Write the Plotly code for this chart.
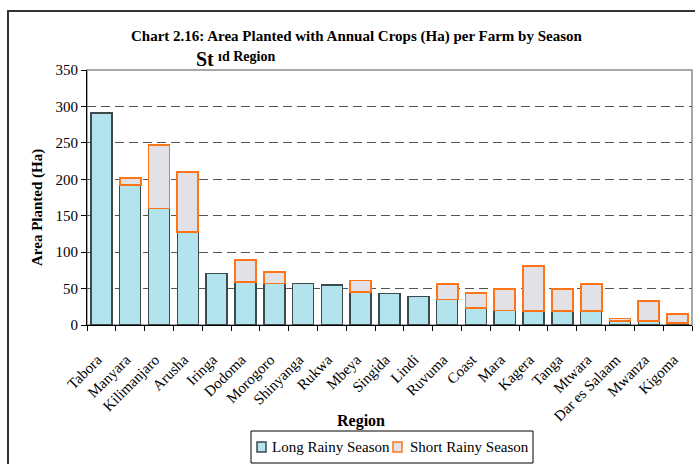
import plotly.graph_objects as go

# Regions and area planted (Ha) per farm, by season
regions = ["Tabora", "Manyara", "Kilimanjaro", "Arusha", "Iringa", "Dodoma",
           "Morogoro", "Shinyanga", "Rukwa", "Mbeya", "Singida", "Lindi",
           "Ruvuma", "Coast", "Mara", "Kagera", "Tanga", "Mtwara",
           "Dar es Salaam", "Mwanza", "Kigoma"]
long_rainy = [291, 192, 160, 128, 71, 59, 57, 57, 55, 45, 43, 39,
              35, 23, 20, 19, 19, 19, 6, 6, 3]
short_rainy = [0, 10, 87, 82, 0, 30, 16, 0, 0, 16, 0, 0,
               21, 21, 29, 62, 30, 37, 3, 27, 12]
y_ticks = [0, 50, 100, 150, 200, 250, 300, 350]
series_names = ["Long Rainy Season", "Short Rainy Season"]

W, H = 695, 464
L, R, T, B = 87, 3, 70, 139
PW, PH = W - L - R, H - T - B


def px(x):
    return (x - L) / PW


def py(y):
    return (H - B - y) / PH


SERIF = "Liberation Serif, Times New Roman, serif"
LONG_FILL, LONG_EDGE = "#b3e3ec", "#3c4a4c"
SHORT_FILL, SHORT_EDGE = "#e2e2e6", "#ff7418"

fig = go.Figure()
fig.add_trace(go.Bar(
    x=regions, y=long_rainy, name=series_names[0],
    marker=dict(color=LONG_FILL, line=dict(color=LONG_EDGE, width=1.5)),
))
# zero segments are left out so they draw no outline
fig.add_trace(go.Bar(
    x=regions, y=[v if v else None for v in short_rainy], name=series_names[1],
    marker=dict(color=SHORT_FILL, line=dict(color=SHORT_EDGE, width=1.8)),
))

fig.update_layout(
    width=W, height=H,
    margin=dict(l=L, r=R, t=T, b=B, pad=0),
    barmode="stack", bargap=0.27,
    plot_bgcolor="white", paper_bgcolor="white",
    font=dict(family=SERIF, color="black", size=13),
    showlegend=False,
    xaxis=dict(
        showline=True, linecolor="black", linewidth=1.2,
        ticks="outside", ticklen=5, tickcolor="black", tickson="boundaries",
        tickangle=-45, tickfont=dict(family=SERIF, size=15),
        ticklabelstandoff=19, ticklabelshift=-4,
        showgrid=False,
    ),
    yaxis=dict(
        range=[0, 350], tickvals=y_ticks,
        showline=True, linecolor="black", linewidth=1.2,
        ticks="outside", ticklen=5, tickcolor="black",
        tickfont=dict(family=SERIF, size=15),
        showgrid=True, gridcolor="#555555", gridwidth=1.2, griddash="9px,5px",
        zeroline=False,
    ),
)

# Plot-area border and outer chart frame
fig.add_shape(type="rect", xref="paper", yref="paper", x0=0, x1=1, y0=0, y1=1,
              line=dict(color="#8c8c8c", width=1.5), layer="below")
fig.add_shape(type="path", xref="paper", yref="paper",
              path=f"M {px(710)} {py(11)} L {px(8)} {py(11)} L {px(8)} {py(480)}",
              line=dict(color="#333333", width=2))

# Compact boxed legend below the axis title
fig.add_shape(type="rect", xref="paper", yref="paper",
              x0=px(251), x1=px(533), y0=py(463), y1=py(431),
              line=dict(color="black", width=1), fillcolor="white")
legend_items = [(257, 270, LONG_FILL, LONG_EDGE), (393, 408, SHORT_FILL, SHORT_EDGE)]
for name, (sx, tx, fill, edge) in zip(series_names, legend_items):
    fig.add_shape(type="rect", xref="paper", yref="paper",
                  x0=px(sx), x1=px(sx + 9), y0=py(452), y1=py(442),
                  line=dict(color=edge, width=1.5), fillcolor=fill)
    fig.add_annotation(xref="paper", yref="paper", x=px(tx), y=py(447),
                       text=name, showarrow=False, xanchor="left", yanchor="middle",
                       font=dict(family=SERIF, size=15, color="black"))

# Titles
fig.add_annotation(xref="paper", yref="paper", x=px(357), y=py(36),
                   text="<b>Chart 2.16: Area Planted with Annual Crops (Ha) per Farm by Season</b>",
                   showarrow=False, xanchor="center", yanchor="middle",
                   font=dict(family=SERIF, size=15, color="black"))
fig.add_annotation(xref="paper", yref="paper", x=px(216), y=py(59),
                   text="<b>St</b>", showarrow=False, xanchor="right", yanchor="middle",
                   font=dict(family=SERIF, size=20, color="black"))
fig.add_annotation(xref="paper", yref="paper", x=px(216), y=py(57),
                   text="<b>ıd Region</b>", showarrow=False, xanchor="left", yanchor="middle",
                   font=dict(family=SERIF, size=14, color="black"))
fig.add_annotation(xref="paper", yref="paper", x=px(37), y=py(208),
                   text="<b>Area Planted (Ha)</b>", showarrow=False, textangle=-90,
                   xanchor="center", yanchor="middle",
                   font=dict(family=SERIF, size=15, color="black"))
fig.add_annotation(xref="paper", yref="paper", x=px(361), y=py(421),
                   text="<b>Region</b>", showarrow=False,
                   xanchor="center", yanchor="middle",
                   font=dict(family=SERIF, size=16, color="black"))

fig.write_html("out.html")
